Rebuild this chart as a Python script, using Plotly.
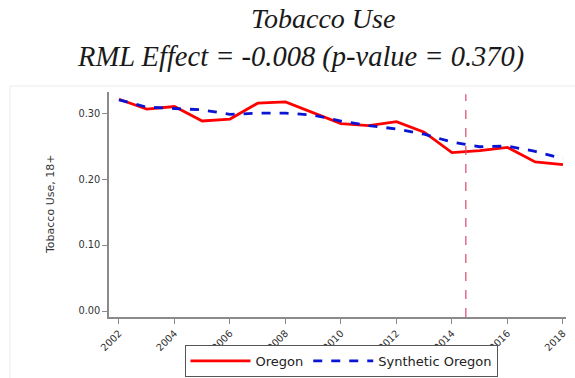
import plotly.graph_objects as go

# Tobacco use among adults (18+), Oregon vs. synthetic control
years = list(range(2002, 2019))
oregon = [0.321, 0.306, 0.310, 0.288, 0.291, 0.315, 0.317, 0.300, 0.284,
          0.281, 0.287, 0.271, 0.240, 0.243, 0.248, 0.226, 0.222]
synthetic_oregon = [0.320, 0.309, 0.307, 0.305, 0.298, 0.300, 0.300, 0.297,
                    0.288, 0.281, 0.276, 0.268, 0.256, 0.249, 0.250, 0.242, 0.231]
treatment_year = 2014.5
y_ticks = [0.0, 0.1, 0.2, 0.3]
x_ticks = list(range(2002, 2019, 2))

title_line1 = "Tobacco Use"
title_line2 = "RML Effect = -0.008 (p-value = 0.370)"

W, H = 575, 378
ML, MR, MT, MB = 109, 9, 92, 61
PW, PH = W - ML - MR, H - MT - MB


def px_x(x):
    return (x - ML) / PW


def px_y(y):
    return (H - MB - y) / PH


fig = go.Figure()
fig.add_trace(go.Scatter(
    x=years, y=oregon, name="Oregon", mode="lines",
    line=dict(color="#ff0000", width=2.8),
))
fig.add_trace(go.Scatter(
    x=years, y=synthetic_oregon, name="Synthetic Oregon", mode="lines",
    line=dict(color="#0a14d2", width=2.8, dash="dash"),
))

axis_font = dict(family="DejaVu Sans", size=9.8, color="#333333")

fig.update_xaxes(
    range=[2001.64, 2018.11], tickvals=x_ticks, tickangle=-45,
    showline=True, linecolor="#8a8a8a", linewidth=1.5,
    ticks="outside", ticklen=5, tickcolor="#8a8a8a", tickwidth=1.2,
    showgrid=False, zeroline=False, tickfont=axis_font,
)
fig.update_yaxes(
    range=[-0.0091, 0.332], tickvals=y_ticks, tickformat=".2f",
    showline=True, linecolor="#8a8a8a", linewidth=1.5,
    ticks="outside", ticklen=5, tickcolor="#8a8a8a", tickwidth=1.2,
    showgrid=False, zeroline=False, tickfont=axis_font,
)

annotations = [
    dict(text=title_line1, x=px_x(323), y=px_y(18), xref="paper", yref="paper",
         showarrow=False, xanchor="center", yanchor="middle",
         font=dict(family="Liberation Serif", size=28, color="#1a1a1a", style="italic")),
    dict(text=title_line2, x=px_x(300), y=px_y(57), xref="paper", yref="paper",
         showarrow=False, xanchor="center", yanchor="middle",
         font=dict(family="Liberation Serif", size=28.5, color="#1a1a1a", style="italic")),
    dict(text="Tobacco Use, 18+", x=px_x(50), y=px_y(205), xref="paper", yref="paper",
         showarrow=False, textangle=-90, xanchor="center", yanchor="middle",
         font=dict(family="DejaVu Sans", size=11, color="#333333")),
]

fig.update_layout(
    width=W, height=H,
    margin=dict(l=ML, r=MR, t=MT, b=MB, pad=0, autoexpand=False),
    paper_bgcolor="white", plot_bgcolor="white",
    annotations=annotations,
    showlegend=True,
    legend=dict(
        orientation="h", x=px_x(341), y=px_y(345), xanchor="center", yanchor="top",
        bordercolor="#555555", borderwidth=1, bgcolor="white",
        font=dict(family="DejaVu Sans", size=13, color="#222222"),
        tracegroupgap=0, itemwidth=60,
    ),
    shapes=[dict(type="rect", xref="paper", yref="paper",
                 x0=px_x(10), x1=px_x(576), y0=px_y(379), y1=px_y(86),
                 line=dict(color="#ececec", width=1, dash="solid"), layer="below")],
)

# Policy start marker
fig.add_vline(x=treatment_year, line=dict(color="#d84a6c", width=1.2, dash="dash"),
              y0=0, y1=0.99)

fig.write_html("out.html")
